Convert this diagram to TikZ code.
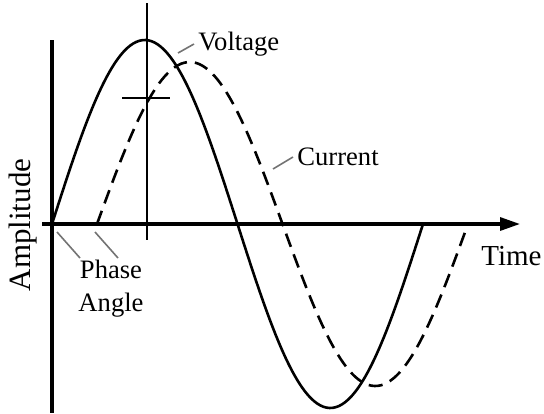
\documentclass[tikz,border=0pt]{standalone}
\usepackage{fontspec}
\setmainfont{Liberation Serif}
\usetikzlibrary{arrows.meta}

\begin{document}
\begin{tikzpicture}[
  x=0.5pt,y=-0.5pt,
  axis/.style={line width=1.6pt},
  wave/.style={line width=1.3pt},
  lagged/.style={wave,dash pattern=on 7pt off 4pt},
  leader/.style={line width=0.8pt,black!55},
  lbl/.style={inner sep=2pt,font=\fontsize{13.3}{16.5}\selectfont}
]
  \useasboundingbox (0,0) rectangle (544,413);

  \coordinate (O) at (52,224);
  \coordinate (xs) at (42,224);
  \coordinate (xe) at (520,224);
  \coordinate (ys) at (52,40);
  \coordinate (ye) at (52,413);
  \coordinate (ms) at (147,3);
  \coordinate (me) at (147,240);
  \coordinate (cl) at (122,98);
  \coordinate (cr) at (170,98);

  \draw[axis,-{Triangle[length=10pt,width=6.5pt]}] (xs) -- (xe);
  \draw[axis] (ys) -- (ye);
  \draw[line width=1pt] (ms) -- (me);
  \draw[line width=1pt] (cl) -- (cr);

  \draw[wave] plot[domain=0:371,samples=120,smooth]
    ({52+\x},{224-184*sin(\x/371*360)});
  \draw[lagged] plot[domain=0:371,samples=120,smooth]
    ({97+\x},{224-162*sin(\x/371*360)});

  \node[lbl,anchor=west] (volt) at (194,44) {Voltage};
  \node[lbl,anchor=west] (curr) at (293,157) {Current};
  \node[lbl,anchor=west,font=\fontsize{14.5}{16}\selectfont] (time) at (477,256) {Time};
  \node[lbl,align=center] (phase) at (111,289) {Phase\\Angle};
  \node[lbl,rotate=90,font=\fontsize{15.5}{18}\selectfont] (ampl) at (23,225) {Amplitude};

  \coordinate (vp) at (178,53);
  \coordinate (cp) at (273,169);
  \coordinate (pa) at (57,232);
  \coordinate (pb) at (80,258);
  \coordinate (pc) at (95,232);
  \coordinate (pd) at (118,258);

  \draw[leader] (vp) -- (volt.west);
  \draw[leader] (cp) -- (curr.west);
  \draw[leader] (pa) -- (pb);
  \draw[leader] (pc) -- (pd);
\end{tikzpicture}
\end{document}
